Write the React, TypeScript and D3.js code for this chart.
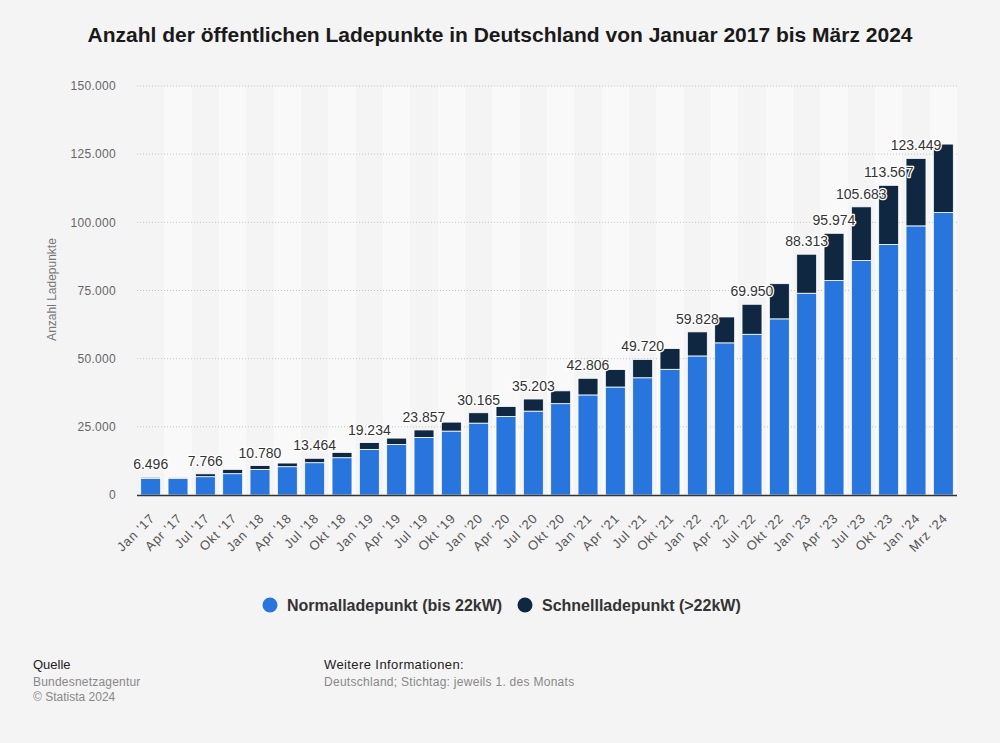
import { scaleBand, scaleLinear, select } from 'd3';
import { useEffect, useRef } from 'react';

// quarterly dates, Stichtag 1st of the month
const categories = [
  "Jan '17", "Apr '17", "Jul '17", "Okt '17",
  "Jan '18", "Apr '18", "Jul '18", "Okt '18",
  "Jan '19", "Apr '19", "Jul '19", "Okt '19",
  "Jan '20", "Apr '20", "Jul '20", "Okt '20",
  "Jan '21", "Apr '21", "Jul '21", "Okt '21",
  "Jan '22", "Apr '22", "Jul '22", "Okt '22",
  "Jan '23", "Apr '23", "Jul '23", "Okt '23",
  "Jan '24", "Mrz '24",
];

const normalPoints = [
  6100, 6050, 6720, 7820,
  9400, 10380, 11850, 13680,
  16730, 18560, 21120, 23440,
  26360, 28800, 30760, 33500,
  36700, 39600, 43000, 46100,
  51000, 55800, 58950, 64600,
  74000, 78650, 86000, 91900,
  98700, 103600,
];

const fastPoints = [
  396, 350, 1046, 1580,
  1380, 1340, 1614, 1950,
  2504, 2310, 2737, 3290,
  3805, 3660, 4443, 4700,
  6106, 6400, 6720, 7600,
  8828, 9500, 11000, 12900,
  14313, 17324, 19683, 21667,
  24749, 25100,
];

// categories that carry a total label
const labeledCategories = [
  "Jan '17", "Jul '17", "Jan '18", "Jul '18", "Jan '19", "Jul '19",
  "Jan '20", "Jul '20", "Jan '21", "Jul '21", "Jan '22", "Jul '22",
  "Jan '23", "Apr '23", "Jul '23", "Okt '23", "Jan '24",
];

const yTicks = [0, 25000, 50000, 75000, 100000, 125000, 150000];

const seriesNames = ['Normalladepunkt (bis 22kW)', 'Schnellladepunkt (>22kW)'];

const WIDTH = 1000;
const HEIGHT = 743;
const BLUE = '#2876dd';
const NAVY = '#0f2741';
const FONT = '"Liberation Sans", Arial, sans-serif';

const fmt = (v: number) =>
  v.toString().replace(/\B(?=(\d{3})+(?!\d))/g, '.');

const App = () => {
  const svgElem = useRef<SVGSVGElement>(null);

  useEffect(() => {
    if (!svgElem.current) {
      return;
    }
    const svg = select(svgElem.current);
    svg.selectAll('*').remove();

    const MARGINS = { top: 86, right: 40, bottom: 248, left: 137 };

    const xScale = scaleBand<string>()
      .domain(categories)
      .range([MARGINS.left, WIDTH - MARGINS.right - 3])
      .paddingInner(0.27)
      .paddingOuter(0.135);
    const yScale = scaleLinear()
      .domain([0, 150000])
      .range([HEIGHT - MARGINS.bottom, MARGINS.top]);

    svg
      .append('rect')
      .attr('width', WIDTH)
      .attr('height', HEIGHT)
      .attr('fill', '#f4f4f4');

    // title
    svg
      .append('text')
      .attr('x', WIDTH / 2)
      .attr('y', 42)
      .attr('text-anchor', 'middle')
      .style('font', `bold 21px ${FONT}`)
      .style('fill', '#1a1a1a')
      .text('Anzahl der öffentlichen Ladepunkte in Deutschland von Januar 2017 bis März 2024');

    // alternating column stripes
    const step = xScale.step();
    svg
      .append('g')
      .selectAll('rect')
      .data(categories.filter((_, i) => i % 2 === 1))
      .join('rect')
      .attr('x', (d) => (xScale(d) as number) - (step * xScale.paddingInner()) / 2)
      .attr('y', yScale(150000))
      .attr('width', step)
      .attr('height', yScale(0) - yScale(150000))
      .attr('fill', '#f9f9f9');

    // grid
    svg
      .append('g')
      .selectAll('line')
      .data(yTicks.filter((t) => t > 0))
      .join('line')
      .attr('x1', MARGINS.left)
      .attr('x2', WIDTH - MARGINS.right - 3)
      .attr('y1', (d) => yScale(d))
      .attr('y2', (d) => yScale(d))
      .attr('stroke', '#c4c4c4')
      .attr('stroke-dasharray', '1,2');

    // y tick labels
    svg
      .append('g')
      .selectAll('text')
      .data(yTicks)
      .join('text')
      .attr('x', 116)
      .attr('y', (d) => yScale(d))
      .attr('dy', '0.35em')
      .attr('text-anchor', 'end')
      .style('font', `12px ${FONT}`)
      .style('letter-spacing', '0.3px')
      .style('fill', '#666')
      .text((d) => fmt(d));

    // y-axis label
    svg
      .append('text')
      .attr('transform', `translate(56, ${yScale(75000) - 1}) rotate(-90)`)
      .attr('text-anchor', 'middle')
      .style('font', `12px ${FONT}`)
      .style('fill', '#777')
      .text('Anzahl Ladepunkte');

    // stacked bars
    const bars = svg.append('g');
    categories.forEach((c, i) => {
      const x = xScale(c) as number;
      const n = normalPoints[i];
      const f = fastPoints[i];
      bars
        .append('rect')
        .attr('x', x)
        .attr('y', yScale(n))
        .attr('width', xScale.bandwidth())
        .attr('height', yScale(0) - yScale(n))
        .attr('fill', BLUE)
        .attr('stroke', '#fff')
        .attr('stroke-width', 0.8);
      bars
        .append('rect')
        .attr('x', x)
        .attr('y', yScale(n + f))
        .attr('width', xScale.bandwidth())
        .attr('height', yScale(n) - yScale(n + f))
        .attr('fill', NAVY)
        .attr('stroke', '#fff')
        .attr('stroke-width', 0.8);
    });

    // x axis line
    svg
      .append('line')
      .attr('x1', MARGINS.left)
      .attr('x2', WIDTH - MARGINS.right - 3)
      .attr('y1', yScale(0) + 0.5)
      .attr('y2', yScale(0) + 0.5)
      .attr('stroke', '#333')
      .attr('stroke-width', 1.5);

    // x tick labels
    svg
      .append('g')
      .selectAll('text')
      .data(categories)
      .join('text')
      .attr(
        'transform',
        (d) => `translate(${(xScale(d) as number) + xScale.bandwidth() / 2 + 5}, ${yScale(0) + 24}) rotate(-45)`,
      )
      .attr('text-anchor', 'end')
      .style('font', `13px ${FONT}`)
      .style('letter-spacing', '0.8px')
      .style('fill', '#555')
      .text((d) => d);

    // total labels
    svg
      .append('g')
      .selectAll('text')
      .data(categories.filter((c) => labeledCategories.includes(c)))
      .join('text')
      .attr('x', (d) => (xScale(d) as number) + xScale.bandwidth() / 2)
      .attr('y', (d) => {
        const i = categories.indexOf(d);
        return yScale(normalPoints[i] + fastPoints[i]) - 8;
      })
      .attr('text-anchor', 'middle')
      .style('font', `14px ${FONT}`)
      .style('fill', '#333')
      .style('stroke', '#fff')
      .style('stroke-width', 2.5)
      .style('stroke-linejoin', 'round')
      .style('paint-order', 'stroke')
      .text((d) => {
        const i = categories.indexOf(d);
        return fmt(normalPoints[i] + fastPoints[i]);
      });

    // legend
    const legendX = [270, 525];
    const legend = svg.append('g');
    seriesNames.forEach((name, i) => {
      legend
        .append('circle')
        .attr('cx', legendX[i])
        .attr('cy', 605)
        .attr('r', 7.5)
        .attr('fill', i === 0 ? BLUE : NAVY);
      legend
        .append('text')
        .attr('x', legendX[i] + 17)
        .attr('y', 610.5)
        .style('font', `bold 16px ${FONT}`)
        .style('fill', '#333')
        .text(name);
    });

    // footer
    const footer = svg.append('g').style('font', `12px ${FONT}`);
    footer.append('text').attr('x', 33).attr('y', 669).style('fill', '#222').style('font-size', '13px').text('Quelle');
    footer.append('text').attr('x', 33).attr('y', 686).style('fill', '#888').style('letter-spacing', '0.2px').text('Bundesnetzagentur');
    footer.append('text').attr('x', 33).attr('y', 701).style('fill', '#888').text('© Statista 2024');
    footer
      .append('text')
      .attr('x', 324)
      .attr('y', 669)
      .style('fill', '#222')
      .style('font-size', '13px')
      .style('letter-spacing', '0.4px')
      .text('Weitere Informationen:');
    footer
      .append('text')
      .attr('x', 324)
      .attr('y', 686)
      .style('fill', '#888')
      .style('letter-spacing', '0.28px')
      .text('Deutschland; Stichtag: jeweils 1. des Monats');
  }, [svgElem]);

  return (
    <svg
      ref={svgElem}
      width={WIDTH}
      height={HEIGHT}
      style={{ position: 'absolute', left: 0, top: 0, display: 'block' }}
    />
  );
};

export default App;
